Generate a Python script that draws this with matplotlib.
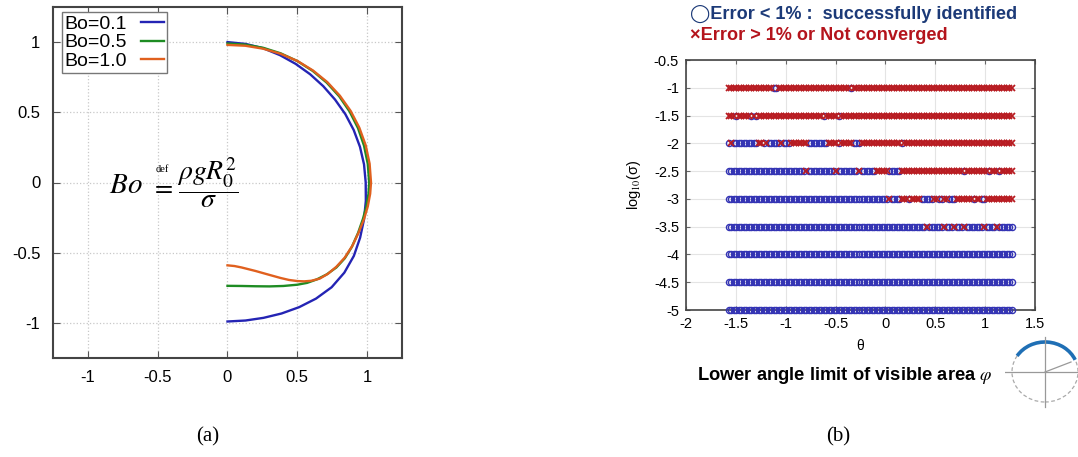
import numpy as np
import matplotlib
matplotlib.use('Agg')
import matplotlib.pyplot as plt
from matplotlib.patches import Ellipse, Arc

plt.rcParams['font.family'] = ['Liberation Sans', 'DejaVu Sans']
plt.rcParams['mathtext.fontset'] = 'stix'

# ---- (a) drop profiles ----
bo_labels = ['Bo=0.1', 'Bo=0.5', 'Bo=1.0']
bo_colors = ['#2424b4', '#1e8c23', '#e0601e']

x_bo01 = [0, 0.130, 0.256, 0.376, 0.488, 0.592, 0.686, 0.770, 0.844, 0.904, 0.949,
          0.978, 0.99, 0.991, 0.978, 0.950, 0.905, 0.837, 0.746, 0.634, 0.513, 0.387,
          0.258, 0.129, 0]
y_bo01 = [1.0, 0.987, 0.956, 0.907, 0.845, 0.771, 0.686, 0.591, 0.487, 0.374, 0.254,
          0.129, 0.0, -0.131, -0.262, -0.393, -0.523, -0.642, -0.746, -0.827, -0.888,
          -0.933, -0.964, -0.983, -0.99]

x_bo05 = [0, 0.129, 0.257, 0.381, 0.5, 0.610, 0.711, 0.800, 0.875, 0.935, 0.978, 1.005,
          1.015, 1.01, 0.995, 0.97, 0.935, 0.89, 0.84, 0.78, 0.71, 0.64, 0.57, 0.5,
          0.4, 0.3, 0.2, 0.1, 0]
y_bo05 = [0.99, 0.982, 0.959, 0.920, 0.865, 0.795, 0.711, 0.614, 0.505, 0.387, 0.262,
          0.132, 0.0, -0.08, -0.17, -0.26, -0.36, -0.46, -0.54, -0.605, -0.655, -0.69,
          -0.715, -0.728, -0.737, -0.74, -0.739, -0.737, -0.736]

x_bo10 = [0, 0.128, 0.255, 0.380, 0.5, 0.612, 0.715, 0.805, 0.882, 0.944, 0.990, 1.018,
          1.028, 1.022, 1.005, 0.978, 0.94, 0.895, 0.84, 0.78, 0.72, 0.66, 0.6, 0.55,
          0.5, 0.44, 0.38, 0.3, 0.2, 0.1, 0.05, 0]
y_bo10 = [0.98, 0.974, 0.953, 0.917, 0.866, 0.798, 0.715, 0.618, 0.510, 0.391, 0.265,
          0.134, 0.0, -0.08, -0.17, -0.26, -0.355, -0.45, -0.535, -0.6, -0.65, -0.685,
          -0.7, -0.704, -0.702, -0.694, -0.68, -0.658, -0.63, -0.605, -0.595, -0.59]

# ---- (b) identification results ----
theta_first, theta_last, n_theta = -1.571, 1.267, 114
log_sigma = [-1, -1.5, -2, -2.5, -3, -3.5, -4, -4.5, -5]
# theta ranges where the error was < 1% (circles); everything else is a cross
ok_ranges = [
    [(-1.11, -1.10), (-0.34, -0.33)],
    [(-1.49, -1.49), (-1.34, -1.34), (-1.285, -1.285), (-0.625, -0.625), (-0.455, -0.455)],
    [(-1.576, -1.576), (-1.51, -1.29), (-1.23, -1.23), (-1.164, -1.075), (-1.025, -0.975),
     (-0.76, -0.59), (-0.455, -0.455), (-0.32, -0.27), (0.17, 0.17)],
    [(-1.576, -0.823), (-0.773, -0.51), (-0.46, -0.29), (-0.25, -0.15), (-0.12, -0.12),
     (0.046, 0.13), (0.798, 0.798), (1.032, 1.032), (1.14, 1.14)],
    [(-1.576, 0.0), (0.05, 0.13), (0.23, 0.23), (0.36, 0.46), (0.54, 0.57), (0.64, 0.68),
     (0.88, 0.88), (0.97, 1.0)],
    [(-1.576, 0.39), (0.44, 0.555), (0.605, 0.665), (0.715, 0.765), (0.815, 0.955),
     (1.005, 1.095), (1.145, 1.267)],
    [(-1.576, 1.267)],
    [(-1.576, 1.267)],
    [(-1.576, 1.267)],
]

fig = plt.figure(figsize=(10.78, 4.57), dpi=100)

# ================= (a) =================
ax1 = fig.add_axes([53/1078, 1-358/457, 349/1078, 351/457])
for xs, ys, lab, c in zip([x_bo01, x_bo05, x_bo10], [y_bo01, y_bo05, y_bo10], bo_labels, bo_colors):
    ax1.plot(xs, ys, color=c, lw=1.7, label=lab, solid_joinstyle='round')
ax1.set_xlim(-1.25, 1.25)
ax1.set_ylim(-1.25, 1.25)
ax1.set_xticks([-1, -0.5, 0, 0.5, 1])
ax1.set_yticks([-1, -0.5, 0, 0.5, 1])
ax1.set_xticklabels(['-1', '-0.5', '0', '0.5', '1'])
ax1.set_yticklabels(['-1', '-0.5', '0', '0.5', '1'])
ax1.grid(True, color='#c8c8c8', linestyle=':', lw=0.9)
ax1.tick_params(direction='in', top=True, right=True, labelsize=12, length=5,
                color='#555555', pad=9)
for s in ax1.spines.values():
    s.set_color('#444444')
    s.set_linewidth(1.5)
leg = ax1.legend(loc='upper left', fontsize=14, markerfirst=False, handlelength=1.2,
                 borderpad=0.15, labelspacing=0.05, handletextpad=0.7, fancybox=False,
                 framealpha=1, bbox_to_anchor=(0.025, 0.985), borderaxespad=0)
leg.get_frame().set_edgecolor('#777777')
leg.get_frame().set_linewidth(1.0)

# Bo  def=  rho g R0^2 / sigma
ax1.text(-0.85, -0.015, r'$Bo$', fontsize=21, ha='left', va='center')
ax1.text(-0.465, -0.035, r'$=$', fontsize=19, ha='center', va='center')
ax1.text(-0.465, 0.095, 'def', fontsize=7.5, ha='center', va='center',
         family='Liberation Serif')
ax1.text(-0.36, 0.0, r'$\dfrac{\rho g R_0^2}{\sigma}$', fontsize=20, ha='left', va='center')

# ================= (b) =================
ax2 = fig.add_axes([686/1078, 1-310/457, 349/1078, 250/457])
theta = np.linspace(theta_first, theta_last, n_theta)
for ls, rngs in zip(log_sigma, ok_ranges):
    ok = np.zeros(n_theta, dtype=bool)
    for a, b in rngs:
        ok |= (theta >= a - 0.0126) & (theta <= b + 0.0126)
    ax2.plot(theta[ok], np.full(ok.sum(), ls), 'o', ms=4.4, mfc='none',
             mec='#3434b4', mew=1.0, clip_on=False, zorder=3)
    ax2.plot(theta[~ok], np.full((~ok).sum(), ls), 'x', ms=4.6, color='#b81c22',
             mew=1.3, clip_on=False, zorder=3)
ax2.set_xlim(-2, 1.5)
ax2.set_ylim(-5, -0.5)
ax2.set_xticks(np.arange(-2, 1.51, 0.5))
ax2.set_yticks(np.arange(-5, -0.49, 0.5))
ax2.set_xticklabels(['-2', '-1.5', '-1', '-0.5', '0', '0.5', '1', '1.5'])
ax2.set_yticklabels(['-5', '-4.5', '-4', '-3.5', '-3', '-2.5', '-2', '-1.5', '-1', '-0.5'])
ax2.grid(True, color='#e4e4e4', lw=0.8)
ax2.tick_params(direction='in', top=True, right=True, labelsize=10.5, length=3,
                color='#666666', pad=5)
for s in ax2.spines.values():
    s.set_color('#444444')
    s.set_linewidth(1.2)
ax2.set_xlabel('θ', fontsize=10, labelpad=6)
ax2.set_ylabel(r'log$_{10}$(σ)', fontsize=10.5, labelpad=8)

fig.text(690/1078, 1-14/457, '◯Error < 1% :  successfully identified', color='#1c3a78',
         fontsize=13.1, fontweight='bold', ha='left', va='center',
         family=['Liberation Sans', 'DejaVu Sans'])
fig.text(690/1078, 1-35/457, '×Error > 1% or Not converged', color='#b4141c',
         fontsize=13.1, fontweight='bold', ha='left', va='center',
         family=['Liberation Sans', 'DejaVu Sans'])
fig.text(845/1078, 1-375/457, r'Lower angle limit of visible area $\varphi$',
         fontsize=13.2, fontweight='bold', ha='center', va='center')

# small sketch of the visible arc
ax3 = fig.add_axes([1005/1078, 1-410/457, 80/1078, 75/457])
ax3.set_xlim(-40, 40)
ax3.set_ylim(-38, 37)
ax3.axis('off')
ax3.add_patch(Ellipse((0, 0), 66, 60, fill=False, ls=(0, (3, 2)), color='#aaaaaa', lw=0.9))
ax3.plot([-40, 40], [0, 0], color='#999999', lw=0.9)
ax3.plot([0, 0], [-35, 35], color='#999999', lw=0.9)
ax3.plot([0, 26], [0, 10], color='#999999', lw=0.9)
ax3.add_patch(Arc((0, 0), 66, 60, theta1=22, theta2=150, color='#1f6fb5', lw=2.6))

fig.text(208/1078, 1-437/457, '(a)', fontsize=15, ha='center', va='center',
         family='Liberation Serif')
fig.text(838/1078, 1-437/457, '(b)', fontsize=15, ha='center', va='center',
         family='Liberation Serif')

fig.savefig('out.png', dpi=100)
